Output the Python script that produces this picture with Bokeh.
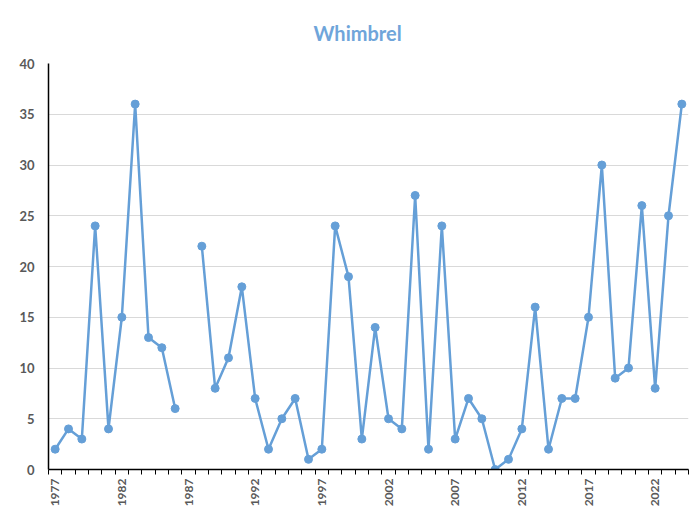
import math
from bokeh.plotting import figure
from bokeh.models import FixedTicker, Range1d
from bokeh.embed import file_html
from bokeh.resources import INLINE

years = list(range(1977, 2025))
counts = [2, 4, 3, 24, 4, 15, 36, 13, 12, 6, float("nan"),
          22, 8, 11, 18, 7, 2, 5, 7, 1, 2,
          24, 19, 3, 14, 5, 4, 27, 2, 24, 3,
          7, 5, 0, 1, 4, 16, 2, 7, 7, 15,
          30, 9, 10, 26, 8, 25, 36]
label_years = [1977, 1982, 1987, 1992, 1997, 2002, 2007, 2012, 2017, 2022]
y_ticks = [0, 5, 10, 15, 20, 25, 30, 35, 40]

blue = "#659FD7"
grey = "#595959"

p = figure(width=692, height=509, output_backend="svg", toolbar_location=None,
           x_range=Range1d(1976.5, 2024.5), y_range=Range1d(0, 40),
           min_border_left=48, min_border_right=4, min_border_top=63, min_border_bottom=40)
p.title.text = "Whimbrel"
p.title.align = "left"
p.title.offset = 265
p.title.standoff = 37
p.title.text_color = "#6FA5DA"
p.title.text_font = "Lato"
p.title.text_font_size = "20px"
p.title.text_font_style = "bold"
p.outline_line_color = None

p.line(years, counts, line_color=blue, line_width=2.5)
p.scatter(years, counts, size=8, fill_color=blue, line_color=blue)

p.xaxis.ticker = FixedTicker(ticks=label_years, minor_ticks=[y - 0.5 for y in years] + [2024.5])
p.xaxis.major_tick_line_color = None
p.xaxis.major_tick_out = 0
p.xaxis.major_tick_in = 0
p.xaxis.minor_tick_line_color = "black"
p.xaxis.minor_tick_out = 5
p.xaxis.minor_tick_in = 0
p.xaxis.axis_line_color = "black"
p.xaxis.axis_line_width = 1.5
p.xaxis.major_label_orientation = math.pi / 2
p.xaxis.major_label_standoff = 4
p.xaxis.major_label_text_font = "Lato"
p.xaxis.major_label_text_font_style = "bold"
p.xaxis.major_label_text_font_size = "12px"
p.xaxis.major_label_text_color = grey

p.yaxis.ticker = FixedTicker(ticks=y_ticks)
p.yaxis.major_tick_line_color = None
p.yaxis.major_tick_out = 0
p.yaxis.major_tick_in = 0
p.yaxis.minor_tick_line_color = None
p.yaxis.axis_line_color = "black"
p.yaxis.axis_line_width = 1.5
p.yaxis.major_label_standoff = 14
p.yaxis.major_label_text_font = "Lato"
p.yaxis.major_label_text_font_style = "bold"
p.yaxis.major_label_text_font_size = "13px"
p.yaxis.major_label_text_color = grey

p.xgrid.grid_line_color = None
p.ygrid.grid_line_color = "#D9D9D9"
p.ygrid.grid_line_width = 1

open("out.html", "w").write(file_html(p, INLINE))
